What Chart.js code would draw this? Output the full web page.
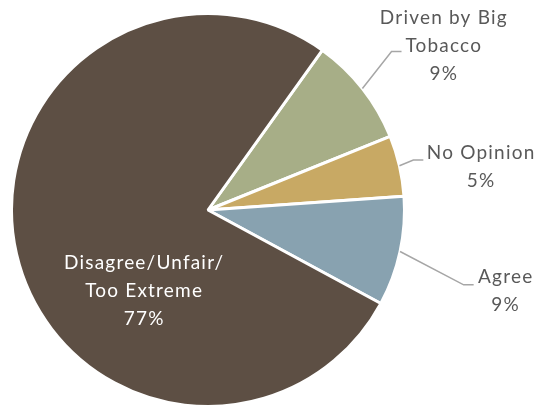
<!doctype html>
<html>
<head>
    <title>Opinion pie</title>
    <script src="https://cdn.jsdelivr.net/npm/chart.js"></script>
    <style>
        body {
            margin: 0;
            padding: 0;
            background-color: #ffffff;
        }

        #wrap {
            width: 540px;
            height: 408px;
        }
    </style>
</head>
<body>
    <div id="wrap"><canvas id="pieChart"></canvas></div>

    <script>
        // data, clockwise from the green slice
        var categories = ['Driven by Big Tobacco', 'No Opinion', 'Agree', 'Disagree/Unfair/Too Extreme'];
        var shares = [9, 5, 9, 77];
        var sliceColors = ['#a7ae87', '#c8a964', '#88a2b0', '#5d4f44'];

        // how each label is written (lines before the percent)
        var labelLines = [
            ['Driven by Big', 'Tobacco'],
            ['No Opinion'],
            ['Agree'],
            ['Disagree/Unfair/', 'Too Extreme']
        ];

        // label placement, as fractions of the radius from the centre
        // inside: text centre; outside: elbow of the leader line + text centre
        var labelPlace = [
            { outside: true, elbowX: 0.934, elbowY: -0.807, textX: 1.20, textY: -0.835 },
            { outside: true, elbowX: 1.045, elbowY: -0.254, textX: 1.390, textY: -0.218 },
            { outside: true, elbowX: 1.301, elbowY: 0.381, textX: 1.515, textY: 0.414 },
            { outside: false, textX: -0.325, textY: 0.411 }
        ];

        var lineGap = 28;

        var pieLabels = {
            id: 'pieLabels',
            afterDatasetsDraw: function (chart) {
                var ctx = chart.ctx;
                var arcs = chart.getDatasetMeta(0).data;
                ctx.save();
                ctx.font = '19px Lato';
                ctx.letterSpacing = '1.2px';
                ctx.textAlign = 'center';
                ctx.textBaseline = 'middle';
                arcs.forEach(function (arc, i) {
                    var p = labelPlace[i];
                    var cx = arc.x, cy = arc.y, r = arc.outerRadius;
                    var lines = labelLines[i].concat([shares[i] + '%']);
                    var tx = cx + p.textX * r;
                    var ty = cy + p.textY * r;
                    var top = ty - (lines.length - 1) * lineGap / 2;

                    if (p.outside) {
                        var mid = (arc.startAngle + arc.endAngle) / 2;
                        var sx = cx + Math.cos(mid) * r;
                        var sy = cy + Math.sin(mid) * r;
                        var ex = cx + p.elbowX * r;
                        var ey = cy + p.elbowY * r;
                        ctx.strokeStyle = '#a6a6a6';
                        ctx.lineWidth = 1.5;
                        ctx.beginPath();
                        ctx.moveTo(sx, sy);
                        ctx.lineTo(ex, ey);
                        ctx.lineTo(ex + 10, ey);
                        ctx.stroke();
                        ctx.fillStyle = '#595959';
                    } else {
                        ctx.fillStyle = '#ffffff';
                    }

                    lines.forEach(function (txt, k) {
                        ctx.fillText(txt, tx, top + k * lineGap);
                    });
                });
                ctx.restore();
            }
        };

        var pieChart = new Chart(document.getElementById('pieChart').getContext('2d'), {
            type: 'pie',
            data: {
                labels: categories,
                datasets: [{
                    data: shares,
                    backgroundColor: sliceColors,
                    borderColor: '#ffffff',
                    borderWidth: 3
                }]
            },
            options: {
                responsive: true,
                maintainAspectRatio: false,
                animation: false,
                rotation: 35.6,
                layout: {
                    padding: { left: 9, right: 133, top: 12, bottom: -4 }
                },
                plugins: {
                    legend: { display: false },
                    tooltip: { enabled: false }
                }
            },
            plugins: [pieLabels]
        });
    </script>
</body>
</html>
